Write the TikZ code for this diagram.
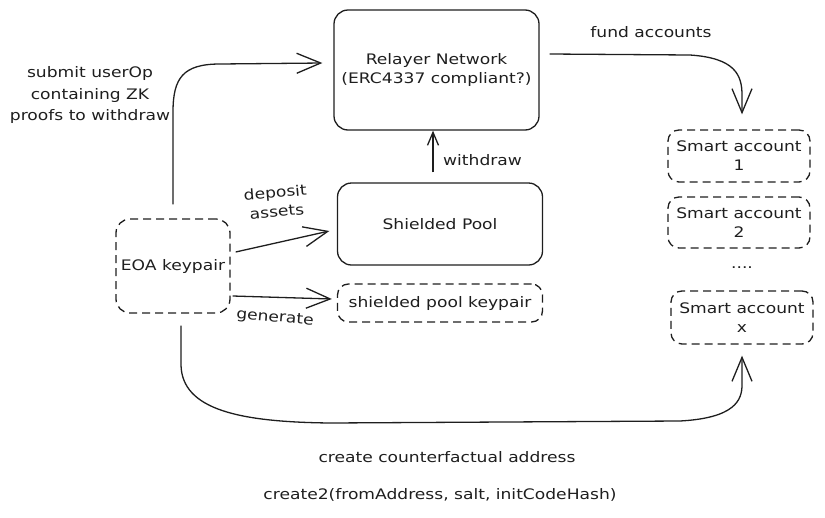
\documentclass[tikz,border=0pt]{standalone}
\usepackage{fontspec}
\setmainfont[FakeStretch=1.18]{DejaVu Sans}
\usetikzlibrary{arrows.meta}
\definecolor{ink}{HTML}{1E1E1E}
\tikzset{
  box/.style={draw=ink, line width=1.3pt, rounded corners=14pt, align=center, inner sep=0pt, font=\fontsize{14.5}{19}\selectfont, text=ink},
  dbox/.style={box, dash pattern=on 8pt off 5pt, rounded corners=11pt},
  arr/.style={draw=ink, line width=1.3pt, -{Straight Barb[length=24pt,width=20pt,line width=1.3pt]}},
  sarr/.style={draw=ink, line width=1.3pt, -{Straight Barb[length=13pt,width=11pt,line width=1.3pt]}},
  lbl/.style={font=\fontsize{14.5}{21.5}\selectfont, text=ink, align=center, inner sep=0pt}
}
\begin{document}
\begin{tikzpicture}[x=1pt,y=-1pt]
\useasboundingbox (0,0) rectangle (825,517);
% nodes
\node[box, minimum width=205pt, minimum height=120pt] (relayer) at (436.5,70) {Relayer Network\\(ERC4337 compliant?)};
\node[box, minimum width=205pt, minimum height=82pt] (pool) at (440,224) {Shielded Pool};
\node[dbox, minimum width=205pt, minimum height=38pt] (pkp) at (440,303) {shielded pool keypair};
\node[dbox, minimum width=114pt, minimum height=94pt, rounded corners=14pt] (eoa) at (173,266) {EOA keypair};
\node[dbox, minimum width=142pt, minimum height=52pt] (sa1) at (739,156) {Smart account\\1};
\node[dbox, minimum width=142pt, minimum height=51pt] (sa2) at (739,222.5) {Smart account\\2};
\node[lbl] (dots) at (742,268) {....};
\node[dbox, minimum width=142pt, minimum height=53pt] (sax) at (742,317.5) {Smart account\\x};
% connectors
\draw[arr, shorten <=14pt] (eoa.north) -- (173,112) .. controls (173,78) and (183,64) .. (220,64) -- ([xshift=-11pt,yshift=7pt]relayer.west);
\draw[arr] ([xshift=5pt,yshift=14pt]eoa.east) -- ([xshift=-7.5pt,yshift=-7pt]pool.west);
\draw[arr] ([xshift=2pt,yshift=-30pt]eoa.east) -- ([xshift=-5pt,yshift=4pt]pkp.west);
\draw[sarr] ([xshift=-7pt,yshift=10pt]pool.north) -- ([xshift=-3.5pt]relayer.south);
\draw[arr] ([xshift=10pt,yshift=16pt]relayer.east) -- (690,55) .. controls (735,58) and (742,75) .. (742,95) -- ([xshift=3pt,yshift=15pt]sa1.north);
\draw[arr] ([xshift=8pt,yshift=-12pt]eoa.south) -- (181,365) .. controls (182,410) and (240,422) .. (330,423) -- (680,421) .. controls (735,418) and (742,400) .. (742,385) -- ([yshift=-11pt]sax.south);
% labels
\node[lbl] (lsubmit) at (90,95) {submit userOp\\containing ZK\\proofs to withdraw};
\node[lbl, rotate=5, font=\fontsize{14.5}{19}\selectfont] (ldeposit) at (276,202) {deposit\\assets};
\node[lbl, rotate=-5] (lgenerate) at (275,318) {generate};
\node[lbl, anchor=west] (lwithdraw) at (443,160) {withdraw};
\node[lbl] (lfund) at (651,32) {fund accounts};
\node[lbl] (lcreate) at (447,457) {create counterfactual address};
\node[lbl] (lcreate2) at (440,495) {create2(fromAddress, salt, initCodeHash)};
\end{tikzpicture}
\end{document}
